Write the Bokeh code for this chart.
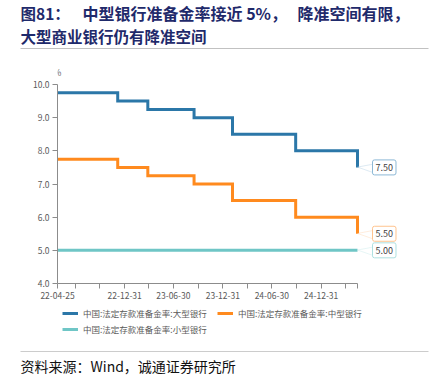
import pandas as pd
from bokeh.plotting import figure
from bokeh.layouts import column
from bokeh.models import (FixedTicker, NumeralTickFormatter, Legend, LegendItem,
                          Label, PolyAnnotation, Range1d)
from bokeh.embed import file_html
from bokeh.resources import INLINE

# ---------------- data ----------------
change_dates = ["2022-04-25", "2022-12-05", "2023-03-27", "2023-09-15",
                "2024-02-05", "2024-09-27", "2025-05-15"]
large_rrr = [9.75, 9.50, 9.25, 9.00, 8.50, 8.00, 7.50]
medium_rrr = [7.75, 7.50, 7.25, 7.00, 6.50, 6.00, 5.50]
small_rrr = [5.00, 5.00, 5.00, 5.00, 5.00, 5.00, 5.00]

series_names = ["中国:法定存款准备金率:大型银行",
                "中国:法定存款准备金率:中型银行",
                "中国:法定存款准备金率:小型银行"]
series_colors = ["#2B77A8", "#FF8A1E", "#6FC6C6"]
callout_borders = ["#8DB9D6", "#FFC48F", "#AEE0E0"]

tick_dates = ["2022-04-25", "2022-06-30", "2022-09-30", "2022-12-31",
              "2023-03-31", "2023-06-30", "2023-09-30", "2023-12-31",
              "2024-03-31", "2024-06-30", "2024-09-30", "2024-12-31",
              "2025-03-31", "2025-05-15"]
tick_labels = ["22-04-25", "", "", "22-12-31", "", "23-06-30", "", "23-12-31",
               "", "24-06-30", "", "24-12-31", "", ""]
y_ticks = [4, 5, 6, 7, 8, 9, 10]
y_min, y_max = 4, 10

title_prefix = "图81："
title_line1a = "中型银行准备金率接近 5%，"
title_line1b = "降准空间有限，"
title_line2 = "大型商业银行仍有降准空间"
source_text = "资料来源：Wind，诚通证券研究所"

# ---------------- helpers ----------------
def ms(d):
    return float(pd.Timestamp(d).value // 10**6)

x_ms = [ms(d) for d in change_dates]
tick_ms = [ms(d) for d in tick_dates]
all_series = [large_rrr, medium_rrr, small_rrr]

CJK = "Noto Sans CJK SC"
GRAY = "#595959"
AXIS = "#8C8C8C"
TITLE_C = "#1F2A6B"
W = 431

def blank_fig(h):
    f = figure(width=W, height=h, output_backend="svg", toolbar_location=None,
               x_axis_location=None, y_axis_location=None, frame_align=False,
               min_border=0, x_range=Range1d(0, W), y_range=Range1d(0, h))
    f.outline_line_color = None
    f.xgrid.grid_line_color = None
    f.ygrid.grid_line_color = None
    return f

def title_label(x, y, text, size):
    return Label(x=x, y=y, x_units="screen", y_units="screen", text=text,
                 text_baseline="middle", text_font=CJK, text_font_size=size,
                 text_font_style="bold", text_color=TITLE_C)

# ---------------- title figure ----------------
TH = 50
pt = blank_fig(TH)
pt.add_layout(title_label(20, TH - 12, title_prefix, "15.5px"))
pt.add_layout(title_label(82, TH - 12, title_line1a, "16px"))
pt.add_layout(title_label(297, TH - 12, title_line1b, "16px"))
pt.add_layout(title_label(20, TH - 35, title_line2, "15.5px"))
pt.add_layout(PolyAnnotation(xs=[20, 428], ys=[TH - 48, TH - 48],
                             xs_units="screen", ys_units="screen",
                             line_color="#333333", line_width=1.2,
                             fill_alpha=0))

# ---------------- main chart ----------------
MH = 257
left, right_pad, top_pad, bottom_pad = 57, 21, 10, 24
frame_w = W - left - right_pad
frame_h = MH - top_pad - bottom_pad
data_w = 300                            # pixels from first to last date
px_per_unit = 199 / (y_max - y_min)
span = x_ms[-1] - x_ms[0]

p = figure(width=W, height=MH, x_axis_type="datetime", frame_align=False,
           output_backend="svg", toolbar_location=None,
           min_border_left=left, min_border_right=right_pad,
           min_border_top=top_pad, min_border_bottom=bottom_pad)
p.x_range = Range1d(x_ms[0], x_ms[0] + span * frame_w / data_w)
p.y_range = Range1d(y_min, y_min + frame_h / px_per_unit)
p.outline_line_color = None
p.xgrid.grid_line_color = None
p.ygrid.grid_line_color = None

xa = p.xaxis[0]
xa.bounds = (x_ms[0], x_ms[-1])
xa.ticker = FixedTicker(ticks=tick_ms)
xa.major_label_overrides = {t: lab for t, lab in zip(tick_ms, tick_labels)}
xa.axis_line_color = AXIS
xa.major_tick_line_color = AXIS
xa.major_tick_in = 0
xa.major_tick_out = 5
xa.minor_tick_line_color = None
xa.major_label_text_font = CJK
xa.major_label_text_font_size = "8.5px"
xa.major_label_text_color = GRAY
xa.major_label_standoff = 3

ya = p.yaxis[0]
ya.bounds = (y_min, y_max)
ya.ticker = FixedTicker(ticks=y_ticks)
ya.formatter = NumeralTickFormatter(format="0.0")
ya.axis_line_color = AXIS
ya.major_tick_line_color = AXIS
ya.major_tick_in = 0
ya.major_tick_out = 5
ya.minor_tick_line_color = None
ya.major_label_text_font = CJK
ya.major_label_text_font_size = "8.5px"
ya.major_label_text_color = GRAY
ya.major_label_standoff = 3

for vals, col in zip(all_series, series_colors):
    p.step(x_ms, vals, mode="after", line_width=3, line_color=col,
           line_join="miter")

for vals, border in zip(all_series, callout_borders):
    v = vals[-1]
    bx = x_ms[-1] + span * 16 / data_w
    p.add_layout(PolyAnnotation(xs=[x_ms[-1], bx, bx],
                                ys=[v + 0.01, v + 0.10, v - 0.16],
                                xs_units="data", ys_units="data",
                                fill_color="white", fill_alpha=1,
                                line_color=border, line_width=1))
    p.add_layout(Label(x=x_ms[-1], y=v, x_offset=15, text=f"{v:.2f}",
                       text_align="left", text_baseline="middle",
                       text_font=CJK, text_font_size="9px", text_color="#404040",
                       padding=dict(left=3, right=3, top=4, bottom=4),
                       border_line_color=border, border_line_width=1,
                       background_fill_color="white", border_radius=2))

p.add_layout(Label(x=x_ms[0], y=y_max, y_offset=13, text="%",
                   text_align="center", text_baseline="middle",
                   text_font=CJK, text_font_size="8.5px", text_color=GRAY))

# ---------------- legend + source ----------------
BH = 381 - TH - MH   # 74
pb = blank_fig(BH)
# legend keys: same series, same styles (their lines fall outside this panel's view)
leg_r = [pb.step(x_ms, vals, mode="after", line_width=3, line_color=c)
         for vals, c in zip(all_series, series_colors)]
legend = Legend(items=[LegendItem(label=n, renderers=[r])
                       for n, r in zip(series_names, leg_r)],
                location=(62, BH - 28), orientation="horizontal", ncols=2,
                label_text_font=CJK, label_text_font_size="8.5px",
                label_text_color=GRAY, glyph_width=16, glyph_height=12,
                label_height=12, label_width=130, label_standoff=5, spacing=4,
                padding=0, margin=0, border_line_color=None,
                background_fill_alpha=0)
pb.add_layout(legend)
pb.add_layout(PolyAnnotation(xs=[20, 428], ys=[BH - 44, BH - 44],
                             xs_units="screen", ys_units="screen",
                             line_color="#555555", line_width=1.2,
                             fill_alpha=0))
pb.add_layout(Label(x=20, y=BH - 58, x_units="screen", y_units="screen",
                    text=source_text, text_baseline="middle",
                    text_font=CJK, text_font_size="14px", text_color="#111111"))

layout = column(pt, p, pb, spacing=0)
open("out.html", "w").write(file_html(layout, INLINE))
